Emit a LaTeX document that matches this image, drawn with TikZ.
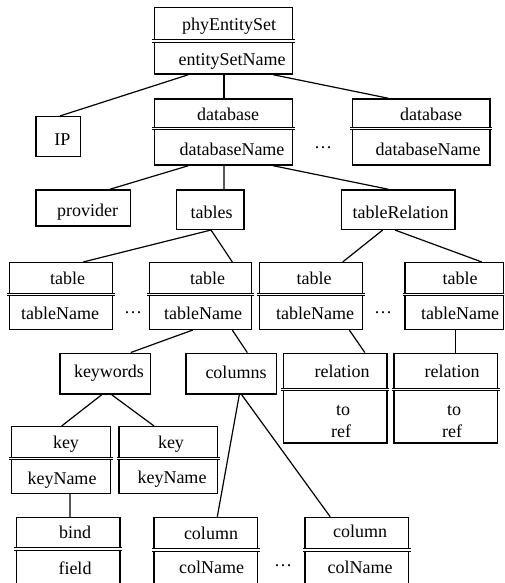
\documentclass[tikz,border=0pt]{standalone}
\usepackage{fontspec}
\setmainfont{Liberation Serif}
\usetikzlibrary{fit,calc}
\tikzset{
  box/.style={draw, line width=1.5pt, inner sep=0pt},
  edge/.style={line width=1.2pt},
  dline/.style={line width=0.9pt, double, double distance=1.5pt},
  lbl/.style={anchor=base, inner sep=0pt, font=\fontsize{18}{20}\selectfont},
}
\newcommand{\dl}[3]{\draw[dline] ($(#1.west|-0,#2)+(-#3,0)$) -- ($(#1.east|-0,#2)+(#3,0)$);}
\begin{document}
\begin{tikzpicture}[x=1pt,y=-1pt]
\useasboundingbox (0,0) rectangle (504,583);
\clip (0,0) rectangle (504,583);
% boxes
\node[box, fit={(154.3,7.7)(292.3,74)}] (phy) {};
\node[box, fit={(36,116.7)(80.7,156.7)}] (ip) {};
\node[box, fit={(154.3,99)(292.3,165)}] (db1) {};
\node[box, fit={(352.3,99)(490,165)}] (db2) {};
\node[box, fit={(36,190)(130.7,226)}] (prov) {};
\node[box, fit={(176.7,190)(244,229.3)}] (tabs) {};
\node[box, fit={(341.7,190)(455,229.3)}] (trel) {};
\node[box, fit={(9.3,262.7)(112.7,329.3)}] (t1) {};
\node[box, fit={(149.3,262.7)(251.7,329.3)}] (t2) {};
\node[box, fit={(259.3,262.7)(362.3,329.3)}] (t3) {};
\node[box, fit={(405,262.7)(503.5,329.3)}] (t4) {};
\node[box, fit={(60,353.3)(150.7,394)}] (kw) {};
\node[box, fit={(186,353.3)(276.7,394)}] (cols) {};
\node[box, fit={(283.3,353.3)(387,443)}] (r1) {};
\node[box, fit={(394,353.3)(497.7,443)}] (r2) {};
\node[box, fit={(11.7,426.7)(110.7,493.3)}] (k1) {};
\node[box, fit={(119,426.7)(217.7,493.3)}] (k2) {};
\node[box, fit={(16.7,517.5)(120,592)}] (bind) {};
\node[box, fit={(154,517.5)(257.7,592)}] (c1) {};
\node[box, fit={(305,517.5)(408.7,592)}] (c2) {};
% double separators
\dl{phy}{41}{1.5}
\dl{db1}{128.5}{1.5}
\dl{db2}{128.5}{1.5}
\dl{t1}{294.3}{1.5}
\dl{t2}{294.3}{1.5}
\dl{t3}{294.3}{1.5}
\dl{t4}{294.3}{1.5}
\dl{r1}{389.3}{1.5}
\dl{r2}{389.3}{1.5}
\dl{k1}{458.3}{1.5}
\dl{k2}{458.3}{1.5}
\dl{bind}{549}{1.5}
\dl{c1}{550}{1.5}
\dl{c2}{550}{1.5}
% connectors
\draw[edge] ([xshift=-35pt]phy.south) -- ([xshift=1.65pt]ip.north);
\draw[edge] ([xshift=0.7pt]phy.south) -- ([xshift=0.7pt]db1.north);
\draw[edge] ([xshift=50pt]phy.south) -- ([xshift=-32.85pt]db2.north);
\draw[edge] ([xshift=-35pt]db1.south) -- ([xshift=26.65pt]prov.north);
\draw[edge] ([xshift=0.7pt]db1.south) -- ([xshift=13.65pt]tabs.north);
\draw[edge] ([xshift=50pt]db1.south) -- ([xshift=-10pt]trel.north);
\draw[edge] ([xshift=0.65pt]tabs.south) -- ([xshift=22.3pt]t1.north);
\draw[edge] ([xshift=0.65pt]tabs.south) -- ([xshift=31.8pt]t2.north);
\draw[edge] ([xshift=-15.65pt]trel.south) -- ([xshift=31.9pt]t3.north);
\draw[edge] ([xshift=-3.35pt]trel.south) -- ([xshift=27.45pt]t4.north);
\draw[edge] ([xshift=-7.8pt]t2.south) -- ([xshift=25.35pt]kw.north);
\draw[edge] ([xshift=31.8pt]t2.south) -- ([xshift=15.95pt]cols.north);
\draw[edge] ([xshift=38.5pt]t3.south) -- ([xshift=29.7pt]r1.north);
\draw[edge] ([xshift=1.45pt]t4.south) -- ([xshift=9.85pt]r2.north);
\draw[edge] ([xshift=-3.65pt]kw.south) -- ([xshift=0.5pt]k1.north);
\draw[edge] ([xshift=6.35pt]kw.south) -- ([xshift=-14.35pt]k2.north);
\draw[edge] ([xshift=8.8pt]k1.south) -- ([xshift=1.65pt]bind.north);
\draw[edge] ([xshift=7.95pt]cols.south) -- ([xshift=11.45pt]c1.north);
\draw[edge] ([xshift=10.35pt]cols.south) -- ([xshift=-26.65pt]c2.north);
% labels
\node[lbl] (l1) at (229,31) {phyEntitySet};
\node[lbl] (l2) at (232,65.5) {entitySetName};
\node[lbl] (l3) at (62.5,146) {IP};
\node[lbl] (l4) at (228,121) {database};
\node[lbl] (l5) at (232,155.5) {databaseName};
\node[lbl] (l6) at (431,121) {database};
\node[lbl] (l7) at (428,155.5) {databaseName};
\node[lbl] (d1) at (323,148) {…};
\node[lbl] (l8) at (87.5,216) {provider};
\node[lbl] (l9) at (211.7,218.5) {tables};
\node[lbl] (l10) at (400.5,218.5) {tableRelation};
\node[lbl] (l11) at (67.5,284) {table};
\node[lbl] (l12) at (60,319.5) {tableName};
\node[lbl] (l13) at (207.5,284) {table};
\node[lbl] (l14) at (203,319.5) {tableName};
\node[lbl] (l15) at (314,284) {table};
\node[lbl] (l16) at (315,319.5) {tableName};
\node[lbl] (l17) at (460,284) {table};
\node[lbl] (l18) at (460,319.5) {tableName};
\node[lbl] (d2) at (133,313) {…};
\node[lbl] (d3) at (383,313) {…};
\node[lbl] (l19) at (109,377) {keywords};
\node[lbl] (l20) at (236,378.5) {columns};
\node[lbl] (l21) at (342,377) {relation};
\node[lbl] (l22) at (343,415.5) {to};
\node[lbl] (l23) at (341,437) {ref};
\node[lbl] (l24) at (452,377) {relation};
\node[lbl] (l25) at (454,415.5) {to};
\node[lbl] (l26) at (452,437) {ref};
\node[lbl] (l27) at (66,448) {key};
\node[lbl] (l28) at (62,484.5) {keyName};
\node[lbl] (l29) at (171,448) {key};
\node[lbl] (l30) at (172,483) {keyName};
\node[lbl] (l31) at (75,538) {bind};
\node[lbl] (l32) at (75,574) {field};
\node[lbl] (l33) at (211,539.5) {column};
\node[lbl] (l34) at (211.5,573.5) {colName};
\node[lbl] (l35) at (360,537.5) {column};
\node[lbl] (l36) at (360,573.5) {colName};
\node[lbl] (d4) at (283,566.5) {…};
\end{tikzpicture}
\end{document}
